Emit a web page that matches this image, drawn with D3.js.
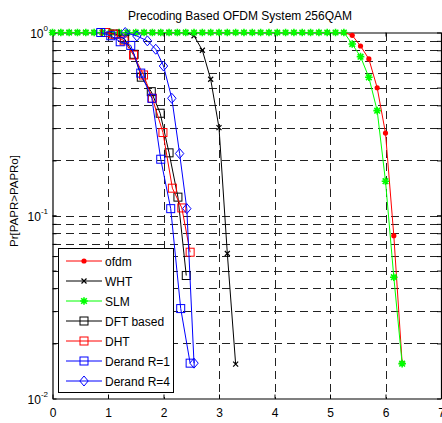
<!DOCTYPE html>
<html>
<head>
<meta charset="utf-8">
<script src="https://cdn.jsdelivr.net/npm/d3@7/dist/d3.min.js"></script>
<style>
  html, body { margin: 0; padding: 0; background: #fff; }
  svg { display: block; font-family: Arial, "Liberation Sans", sans-serif; }
</style>
</head>
<body>
<div id="chart"></div>
<script>
// 標題與座標軸文字
const title = 'Precoding Based OFDM System 256QAM';
const yLabel = 'Pr[PAPR>PAPRo]';
const xTicks = [0, 1, 2, 3, 4, 5, 6, 7];
const yTickExp = [0, -1, -2];

// PAPRo 取樣點（ofdm / SLM 共用）
const paprX = [0, 0.15, 0.3, 0.45, 0.6, 0.75, 0.9, 1.05, 1.2, 1.35, 1.5, 1.65, 1.8, 1.95, 2.1, 2.25,
  2.4, 2.55, 2.7, 2.85, 3.0, 3.15, 3.3, 3.45, 3.6, 3.75, 3.9, 4.05, 4.2, 4.35, 4.5, 4.65, 4.8, 4.95,
  5.1, 5.25, 5.4, 5.55, 5.7, 5.85, 6.0, 6.15, 6.3];
const ofdmY = [1, 1, 1, 1, 1, 1, 1, 1, 1, 1, 1, 1, 1, 1, 1, 1, 1, 1, 1, 1, 1, 1, 1, 1, 1, 1, 1, 1, 1, 1,
  1, 1, 1, 1, 1, 1, 0.965, 0.844, 0.717, 0.499, 0.282, 0.0776, 0.0156];
const slmY = [1, 1, 1, 1, 1, 1, 1, 1, 1, 1, 1, 1, 1, 1, 1, 1, 1, 1, 1, 1, 1, 1, 1, 1, 1, 1, 1, 1, 1, 1,
  1, 1, 1, 1, 1, 1, 0.865, 0.738, 0.569, 0.374, 0.154, 0.046, 0.0155];

// WHT
const whtX = [0, 0.15, 0.3, 0.45, 0.6, 0.75, 0.9, 1.05, 1.2, 1.35, 1.5, 1.65, 1.8, 1.95, 2.1, 2.25,
  2.4, 2.55, 2.7, 2.85, 3.0, 3.15, 3.3];
const whtY = [1, 1, 1, 1, 1, 1, 1, 1, 1, 1, 1, 1, 1, 1, 1, 1, 1, 0.96, 0.80, 0.555, 0.302, 0.062, 0.0154];

// DFT based
const dftX = [0.96, 1.13, 1.30, 1.47, 1.60, 1.78, 1.94, 2.10, 2.26, 2.41];
const dftY = [1, 0.98, 0.92, 0.76, 0.57, 0.475, 0.362, 0.22, 0.126, 0.047];

// DHT
const dhtX = [0.95, 1.10, 1.29, 1.46, 1.64, 1.80, 1.99, 2.16, 2.33, 2.48];
const dhtY = [1, 0.98, 0.90, 0.753, 0.586, 0.437, 0.284, 0.141, 0.11, 0.063];

// Derand R=1
const r1X = [0.87, 1.05, 1.22, 1.41, 1.59, 1.79, 1.95, 2.13, 2.31, 2.48];
const r1Y = [1, 0.96, 0.89, 0.85, 0.60, 0.437, 0.203, 0.109, 0.031, 0.0156];

// Derand R=4
const r4X = [1.31, 1.52, 1.71, 1.86, 2.00, 2.15, 2.29, 2.42, 2.55];
const r4Y = [1, 0.957, 0.90, 0.81, 0.656, 0.437, 0.218, 0.109, 0.0156];

const seriesNames = ['ofdm', 'WHT', 'SLM', 'DFT based', 'DHT', 'Derand R=1', 'Derand R=4'];

// 組合成系列（繪製順序同圖例）
const series = [
  {name: seriesNames[0], xs: paprX, ys: ofdmY, color: '#ff0000', marker: 'dot'},
  {name: seriesNames[1], xs: whtX, ys: whtY, color: '#000000', marker: 'x'},
  {name: seriesNames[2], xs: paprX, ys: slmY, color: '#00ff00', marker: 'star'},
  {name: seriesNames[3], xs: dftX, ys: dftY, color: '#000000', marker: 'square'},
  {name: seriesNames[4], xs: dhtX, ys: dhtY, color: '#ff0000', marker: 'square'},
  {name: seriesNames[5], xs: r1X, ys: r1Y, color: '#0000ff', marker: 'square'},
  {name: seriesNames[6], xs: r4X, ys: r4Y, color: '#0000ff', marker: 'diamond'}
];

const W = 442, H = 423;
const margin = {top: 32.5, right: 1, bottom: 24.5, left: 52.5};

const svg = d3.select('#chart').append('svg')
  .attr('width', W).attr('height', H);
svg.append('rect').attr('width', W).attr('height', H).attr('fill', '#fff');

const x = d3.scaleLinear().domain([0, 7]).range([margin.left, W - margin.right]);
const y = d3.scaleLog().domain([0.01, 1]).range([H - margin.bottom, margin.top]);

// 格線（虛線）
const minorVals = [];
[0.01, 0.1].forEach(dec => {
  for (let k = 2; k <= 9; k++) minorVals.push(dec * k);
});
minorVals.push(0.1);

const grid = svg.append('g')
  .attr('stroke', '#222')
  .attr('stroke-width', 1)
  .attr('stroke-dasharray', '8,5')
  .attr('shape-rendering', 'crispEdges');
grid.selectAll('.hg').data(minorVals).enter().append('line')
  .attr('x1', x(0)).attr('x2', x(7))
  .attr('y1', d => Math.round(y(d)) + 0.5).attr('y2', d => Math.round(y(d)) + 0.5);
grid.selectAll('.vg').data(xTicks.slice(1, -1)).enter().append('line')
  .attr('x1', d => Math.round(x(d)) + 0.5).attr('x2', d => Math.round(x(d)) + 0.5)
  .attr('y1', y(1)).attr('y2', y(0.01));

// 座標軸（MATLAB 樣式：刻度向內、上下左右皆有）
const axisBottom = svg.append('g')
  .attr('transform', `translate(0,${y(0.01)})`)
  .call(d3.axisBottom(x).tickValues(xTicks).tickFormat(d3.format('d'))
    .tickSizeInner(-4).tickSizeOuter(0).tickPadding(10));
const axisTop = svg.append('g')
  .attr('transform', `translate(0,${y(1)})`)
  .call(d3.axisTop(x).tickValues(xTicks).tickSizeInner(-4).tickSizeOuter(0).tickFormat(''));
const allY = [1, 0.1, 0.01].concat(minorVals);
const axisLeft = svg.append('g')
  .attr('transform', `translate(${x(0)},0)`)
  .call(d3.axisLeft(y).tickValues(allY).tickSizeInner(-4).tickSizeOuter(0).tickFormat(''));
const axisRight = svg.append('g')
  .attr('transform', `translate(${x(7)},0)`)
  .call(d3.axisRight(y).tickValues(allY).tickSizeInner(-4).tickSizeOuter(0).tickFormat(''));

[axisBottom, axisTop, axisLeft, axisRight].forEach(a => {
  a.select('.domain').attr('stroke', '#000').attr('stroke-width', 1.2);
  a.selectAll('.tick line').attr('stroke', '#000');
});
axisBottom.selectAll('.tick text')
  .attr('font-size', 12).attr('fill', '#000')
  .attr('font-family', 'Arial, "Liberation Sans", sans-serif');

// Y 軸 10 的次方標籤
const yLab = svg.append('g');
yTickExp.forEach(e => {
  const t = yLab.append('text')
    .attr('x', 48).attr('y', y(Math.pow(10, e)) + 5)
    .attr('text-anchor', 'end')
    .attr('font-size', 12).attr('fill', '#000');
  t.append('tspan').text('10');
  t.append('tspan').attr('dy', -7).attr('font-size', 8).text(String(e));
});

// 標題與 Y 軸名稱
svg.append('text')
  .attr('x', 240).attr('y', 20)
  .attr('text-anchor', 'middle')
  .attr('font-size', 12).attr('fill', '#000')
  .text(title);
svg.append('text')
  .attr('transform', 'translate(18,201) rotate(-90)')
  .attr('text-anchor', 'middle')
  .attr('font-size', 11.5).attr('fill', '#000')
  .text(yLabel);

// 標記繪製
function drawMarker(g, type, cx, cy, color) {
  if (type === 'dot') {
    g.append('circle').attr('cx', cx).attr('cy', cy).attr('r', 2.6).attr('fill', color);
  } else if (type === 'x') {
    const s = 2.5;
    g.append('path')
      .attr('d', `M${cx - s},${cy - s}L${cx + s},${cy + s}M${cx - s},${cy + s}L${cx + s},${cy - s}`)
      .attr('stroke', color).attr('stroke-width', 1.2).attr('fill', 'none');
  } else if (type === 'star') {
    const s = 3.8, d = 2.8;
    g.append('path')
      .attr('d', `M${cx - s},${cy}L${cx + s},${cy}M${cx},${cy - s}L${cx},${cy + s}` +
        `M${cx - d},${cy - d}L${cx + d},${cy + d}M${cx - d},${cy + d}L${cx + d},${cy - d}`)
      .attr('stroke', color).attr('stroke-width', 1.6).attr('fill', 'none');
  } else if (type === 'square') {
    g.append('rect').attr('x', cx - 4).attr('y', cy - 4).attr('width', 8).attr('height', 8)
      .attr('stroke', color).attr('stroke-width', 1).attr('fill', 'none');
  } else if (type === 'diamond') {
    g.append('path')
      .attr('d', `M${cx},${cy - 5}L${cx + 4.2},${cy}L${cx},${cy + 5}L${cx - 4.2},${cy}Z`)
      .attr('stroke', color).attr('stroke-width', 1).attr('fill', 'none');
  }
}

const line = d3.line().x(d => x(d[0])).y(d => y(d[1]));
const plot = svg.append('g');
series.forEach(s => {
  const pts = s.xs.map((v, i) => [v, s.ys[i]]);
  const g = plot.append('g');
  g.append('path').datum(pts)
    .attr('d', line)
    .attr('fill', 'none')
    .attr('stroke', s.color)
    .attr('stroke-width', 1);
  pts.forEach(p => drawMarker(g, s.marker, x(p[0]), y(p[1]), s.color));
});

// 圖例
const leg = svg.append('g');
leg.append('rect')
  .attr('x', 58.5).attr('y', 248.5).attr('width', 115).attr('height', 144)
  .attr('fill', '#fff').attr('stroke', '#000').attr('stroke-width', 1);
series.forEach((s, i) => {
  const ly = 261 + i * 20;
  leg.append('line')
    .attr('x1', 66).attr('x2', 102).attr('y1', ly).attr('y2', ly)
    .attr('stroke', s.color).attr('stroke-width', 1);
  drawMarker(leg, s.marker, 84, ly, s.color);
  leg.append('text')
    .attr('x', 105).attr('y', ly + 4.5)
    .attr('font-size', 12).attr('fill', '#000')
    .text(s.name);
});
</script>
</body>
</html>
